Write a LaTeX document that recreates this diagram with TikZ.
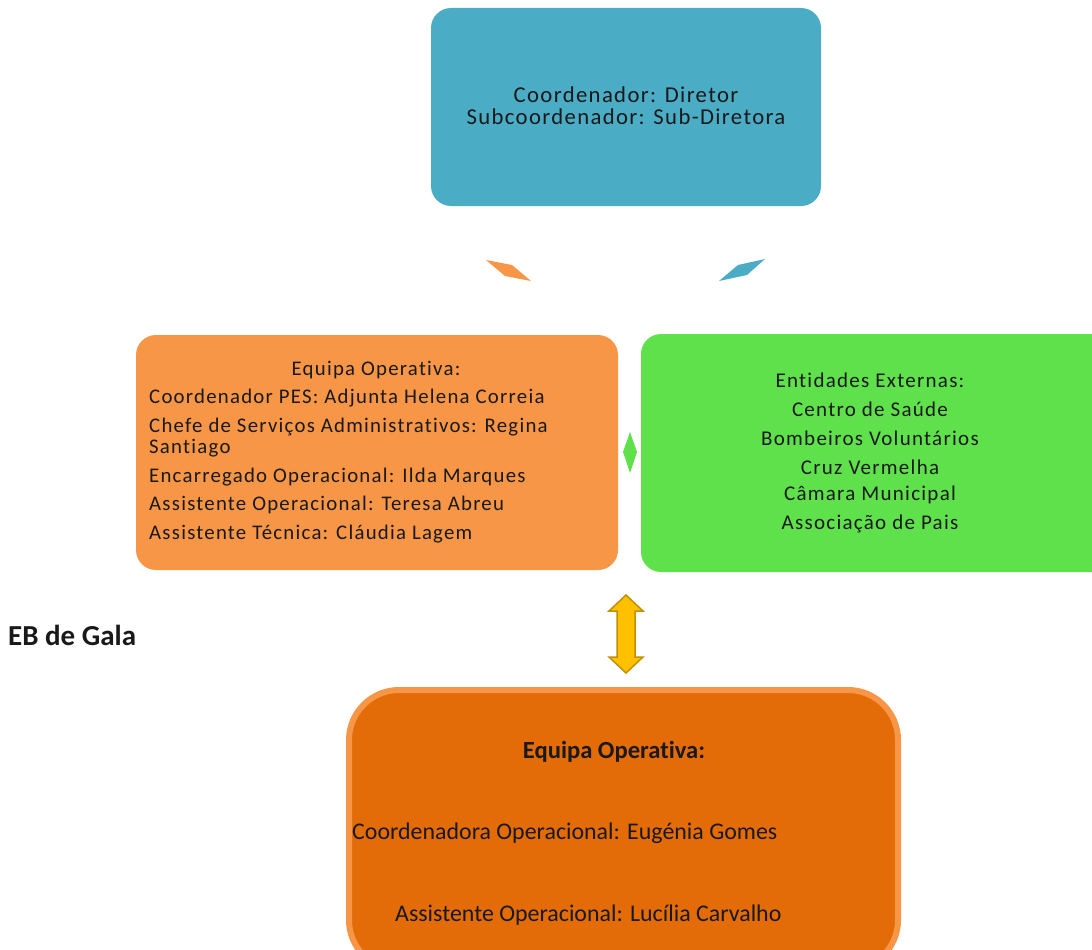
\documentclass[tikz,border=0pt]{standalone}
\usepackage{fontspec}
\setmainfont{Carlito}[Ligatures=NoCommon]
\definecolor{cblue}{HTML}{4BACC6}
\definecolor{corange}{HTML}{F79646}
\definecolor{cgreen}{HTML}{5FE14C}
\definecolor{cdark}{HTML}{E36C09}
\definecolor{cyellow}{HTML}{FFC000}
\definecolor{cgold}{HTML}{BF9000}
\tikzset{
  box/.style={rounded corners=20pt, draw=none, inner sep=0pt},
  txt/.style={inner sep=0pt, text=black!90},
  stxt/.style={txt, font=\fontsize{20.8}{21}\selectfont\addfontfeatures{LetterSpace=6}},
  gtxt/.style={txt, font=\fontsize{21}{22}\selectfont\addfontfeatures{LetterSpace=6}},
  ttxt/.style={txt, font=\fontsize{22.7}{22}\selectfont\addfontfeatures{LetterSpace=6}},
  btxt/.style={txt, font=\fontsize{23.9}{26}\selectfont},
}
\begin{document}
\begin{tikzpicture}[x=1pt,y=-1pt]
\useasboundingbox (0,0) rectangle (1092,950);
% top box
\node[box, fill=cblue, minimum width=390pt, minimum height=198pt] (top) at (626,107) {};
\node[ttxt, align=center] (toptxt) at (626,106) {Coordenador: Diretor\\Subcoordenador: Sub-Diretora};
% small arrow shapes
\fill[corange] (486,260) -- (512,265) -- (531,281) -- (505,276) -- cycle;
\fill[cblue] (765,259) -- (738,265) -- (719,281) -- (747,275) -- cycle;
% left box
\node[box, fill=corange, minimum width=482pt, minimum height=235pt] (left) at (377,452.5) {};
\node[stxt] (l0) at (376,370) {Equipa Operativa:};
\node[stxt, anchor=west] (l1) at (149,398) {Coordenador PES: Adjunta Helena Correia};
\node[stxt, anchor=west, align=left] (l2) at (149,437.5) {Chefe de Serviços Administrativos: Regina\\Santiago};
\node[stxt, anchor=west] (l3) at (149,477) {Encarregado Operacional: Ilda Marques};
\node[stxt, anchor=west] (l4) at (149,505) {Assistente Operacional: Teresa Abreu};
\node[stxt, anchor=west] (l5) at (149,534) {Assistente Técnica: Cláudia Lagem};
% right box
\node[box, fill=cgreen, minimum width=470pt, minimum height=238pt] (right) at (876,453) {};
\node[gtxt] (r0) at (870,380) {Entidades Externas:};
\node[gtxt] (r1) at (870,409) {Centro de Saúde};
\node[gtxt] (r2) at (870,438) {Bombeiros Voluntários};
\node[gtxt] (r3) at (870,467) {Cruz Vermelha};
\node[gtxt] (r4) at (870,495) {Câmara Municipal};
\node[gtxt] (r5) at (870,524) {Associação de Pais};
% diamond
\fill[cgreen] (630,432) -- (637,452) -- (630,473) -- (623,452) -- cycle;
% double arrow
\draw[cgold, fill=cyellow, line width=1.5pt, line join=miter]
  (626,595) -- (643,611) -- (635,611) -- (635,657) -- (643,657) -- (626,673)
  -- (609,657) -- (617,657) -- (617,611) -- (609,611) -- cycle;
% label
\node[txt, font=\fontsize{29}{32}\selectfont\bfseries, anchor=west] (eb) at (8,635) {EB de Gala};
% bottom box
\node[box, rounded corners=50pt, fill=cdark, draw=corange, line width=6pt, minimum width=549pt, minimum height=280pt] (bot) at (623.5,830) {};
\node[btxt, font=\fontsize{24.6}{26}\selectfont\bfseries] (b0) at (614,752) {Equipa Operativa:};
\node[btxt, anchor=west] (b1) at (352,833) {Coordenadora Operacional: Eugénia Gomes};
\node[btxt, anchor=west] (b2) at (395,915) {Assistente Operacional: Lucília Carvalho};
\end{tikzpicture}
\end{document}
